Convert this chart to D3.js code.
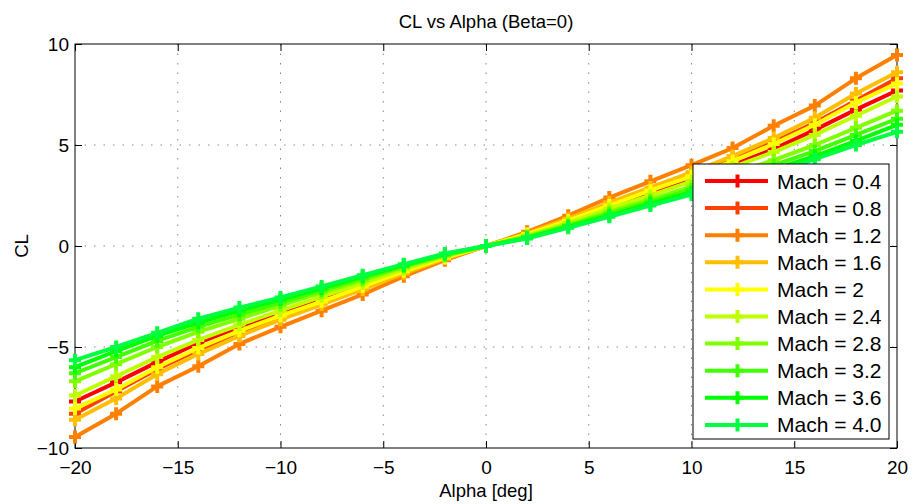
<!DOCTYPE html>
<html>
<head>
<meta charset="utf-8">
<script src="https://cdn.jsdelivr.net/npm/d3@7"></script>
<style>
    body { margin: 0; background: #fff; }
    svg { font-family: "Liberation Sans", Arial, sans-serif; }
</style>
</head>
<body>
<svg id="chart" width="913" height="504"></svg>
<script>
const alpha = [-20, -18, -16, -14, -12, -10, -8, -6, -4, -2, 0, 2, 4, 6, 8, 10, 12, 14, 16, 18, 20]

const machLabels = ["Mach = 0.4", "Mach = 0.8", "Mach = 1.2", "Mach = 1.6", "Mach = 2",
    "Mach = 2.4", "Mach = 2.8", "Mach = 3.2", "Mach = 3.6", "Mach = 4.0"]

const machColors = ["#ff0000", "#ff4000", "#ff8000", "#ffbf00", "#ffff00",
    "#bfff00", "#80ff00", "#40ff00", "#00ff00", "#00ff40"]

const cl04 = [-7.7, -6.75, -5.75, -4.8, -4.0, -3.3, -2.6, -1.9, -1.2, -0.55, 0, 0.55, 1.2, 1.9, 2.6, 3.3, 4.0, 4.8, 5.75, 6.75, 7.7]
const cl08 = [-8.3, -7.2, -6.1, -5.15, -4.3, -3.55, -2.8, -2.05, -1.3, -0.6, 0, 0.6, 1.3, 2.05, 2.8, 3.55, 4.3, 5.15, 6.1, 7.2, 8.3]
const cl12 = [-9.45, -8.3, -6.95, -5.95, -4.85, -4.0, -3.2, -2.4, -1.5, -0.7, 0, 0.7, 1.5, 2.4, 3.2, 4.0, 4.85, 5.95, 6.95, 8.3, 9.45]
const cl16 = [-8.6, -7.55, -6.35, -5.35, -4.45, -3.65, -2.9, -2.15, -1.35, -0.62, 0, 0.62, 1.35, 2.15, 2.9, 3.65, 4.45, 5.35, 6.35, 7.55, 8.6]
const cl20 = [-8.05, -7.1, -6.0, -5.05, -4.2, -3.45, -2.75, -2.0, -1.25, -0.58, 0, 0.58, 1.25, 2.0, 2.75, 3.45, 4.2, 5.05, 6.0, 7.1, 8.05]
const cl24 = [-7.4, -6.45, -5.5, -4.65, -3.9, -3.2, -2.5, -1.85, -1.15, -0.52, 0, 0.52, 1.15, 1.85, 2.5, 3.2, 3.9, 4.65, 5.5, 6.45, 7.4]
const cl28 = [-6.7, -5.85, -5.0, -4.25, -3.6, -2.95, -2.3, -1.7, -1.05, -0.47, 0, 0.47, 1.05, 1.7, 2.3, 2.95, 3.6, 4.25, 5.0, 5.85, 6.7]
const cl32 = [-6.3, -5.5, -4.7, -4.0, -3.4, -2.8, -2.2, -1.6, -1.0, -0.44, 0, 0.44, 1.0, 1.6, 2.2, 2.8, 3.4, 4.0, 4.7, 5.5, 6.3]
const cl36 = [-6.0, -5.2, -4.45, -3.8, -3.2, -2.65, -2.1, -1.5, -0.95, -0.4, 0, 0.4, 0.95, 1.5, 2.1, 2.65, 3.2, 3.8, 4.45, 5.2, 6.0]
const cl40 = [-5.65, -5.0, -4.3, -3.6, -3.05, -2.55, -2.0, -1.45, -0.9, -0.37, 0, 0.37, 0.9, 1.45, 2.0, 2.55, 3.05, 3.6, 4.3, 5.0, 5.65]

const clSeries = [cl04, cl08, cl12, cl16, cl20, cl24, cl28, cl32, cl36, cl40]

const xTicks = [-20, -15, -10, -5, 0, 5, 10, 15, 20]
const yTicks = [-10, -5, 0, 5, 10]

const svg = d3.select("#chart")
const plot = {left: 75, right: 897, top: 44, bottom: 448}

const x = d3.scaleLinear().domain([-20, 20]).range([plot.left, plot.right])
const y = d3.scaleLinear().domain([-10, 10]).range([plot.bottom, plot.top])

// dotted grid
const grid = svg.append("g")
grid.selectAll("line.gx")
    .data(xTicks.slice(1, -1))
    .join("line")
    .attr("x1", d => x(d)).attr("x2", d => x(d))
    .attr("y1", plot.top).attr("y2", plot.bottom)
    .attr("stroke", "#888").attr("stroke-width", 1)
    .attr("stroke-dasharray", "1.5,8")
grid.selectAll("line.gy")
    .data(yTicks.slice(1, -1))
    .join("line")
    .attr("y1", d => y(d)).attr("y2", d => y(d))
    .attr("x1", plot.left).attr("x2", plot.right)
    .attr("stroke", "#888").attr("stroke-width", 1)
    .attr("stroke-dasharray", "1.5,8")

// axes with inward ticks on all sides
const fmt = d => d < 0 ? "\u2212" + Math.abs(d) : String(d)
const axisStyle = g => {
    g.select(".domain").remove()
    g.selectAll(".tick line").attr("stroke", "#000")
    g.selectAll(".tick text").attr("font-size", 19).attr("fill", "#000")
}
svg.append("g")
    .attr("transform", `translate(0,${plot.bottom})`)
    .call(d3.axisBottom(x).tickValues(xTicks).tickFormat(fmt).tickSizeInner(-7).tickPadding(13))
    .call(axisStyle)
svg.append("g")
    .attr("transform", `translate(0,${plot.top})`)
    .call(d3.axisTop(x).tickValues(xTicks).tickFormat("").tickSizeInner(-7))
    .call(axisStyle)
svg.append("g")
    .attr("transform", `translate(${plot.left},0)`)
    .call(d3.axisLeft(y).tickValues(yTicks).tickFormat(fmt).tickSizeInner(-7).tickPadding(6))
    .call(axisStyle)
svg.append("g")
    .attr("transform", `translate(${plot.right},0)`)
    .call(d3.axisRight(y).tickValues(yTicks).tickFormat("").tickSizeInner(-7))
    .call(axisStyle)

svg.append("rect")
    .attr("x", plot.left).attr("y", plot.top)
    .attr("width", plot.right - plot.left).attr("height", plot.bottom - plot.top)
    .attr("fill", "none").attr("stroke", "#000").attr("stroke-width", 1)

// series
const line = d3.line().x((d, i) => x(alpha[i])).y(d => y(d))
const plusPath = "M-6,0H6M0,-6.5V6.5"

clSeries.forEach((vals, k) => {
    const g = svg.append("g")
    g.append("path")
        .attr("d", line(vals))
        .attr("fill", "none")
        .attr("stroke", machColors[k])
        .attr("stroke-width", 4)
        .attr("stroke-linejoin", "round")
    g.selectAll("path.mk")
        .data(vals)
        .join("path")
        .attr("class", "mk")
        .attr("transform", (d, i) => `translate(${x(alpha[i])},${y(d)})`)
        .attr("d", plusPath)
        .attr("stroke", machColors[k])
        .attr("stroke-width", 4)
})

// legend
const legend = svg.append("g")
legend.append("rect")
    .attr("x", 693).attr("y", 164)
    .attr("width", 196).attr("height", 275)
    .attr("fill", "#fff").attr("stroke", "#000").attr("stroke-width", 1)

machLabels.forEach((label, k) => {
    const cy = 181 + k * 27.1
    legend.append("line")
        .attr("x1", 705).attr("x2", 768)
        .attr("y1", cy).attr("y2", cy)
        .attr("stroke", machColors[k]).attr("stroke-width", 4)
    legend.append("path")
        .attr("transform", `translate(737.5,${cy})`)
        .attr("d", plusPath)
        .attr("stroke", machColors[k]).attr("stroke-width", 4)
    legend.append("text")
        .attr("x", 777).attr("y", cy + 7.5)
        .attr("font-size", 21)
        .attr("fill", "#000")
        .text(label)
})

// titles
svg.append("text")
    .attr("x", (plot.left + plot.right) / 2).attr("y", 28)
    .attr("text-anchor", "middle").attr("font-size", 18.5)
    .text("CL vs Alpha (Beta=0)")
svg.append("text")
    .attr("x", (plot.left + plot.right) / 2).attr("y", 497)
    .attr("text-anchor", "middle").attr("font-size", 18.5)
    .text("Alpha [deg]")
svg.append("text")
    .attr("transform", `translate(28,${(plot.top + plot.bottom) / 2}) rotate(-90)`)
    .attr("text-anchor", "middle").attr("font-size", 18.5)
    .text("CL")
</script>
</body>
</html>
